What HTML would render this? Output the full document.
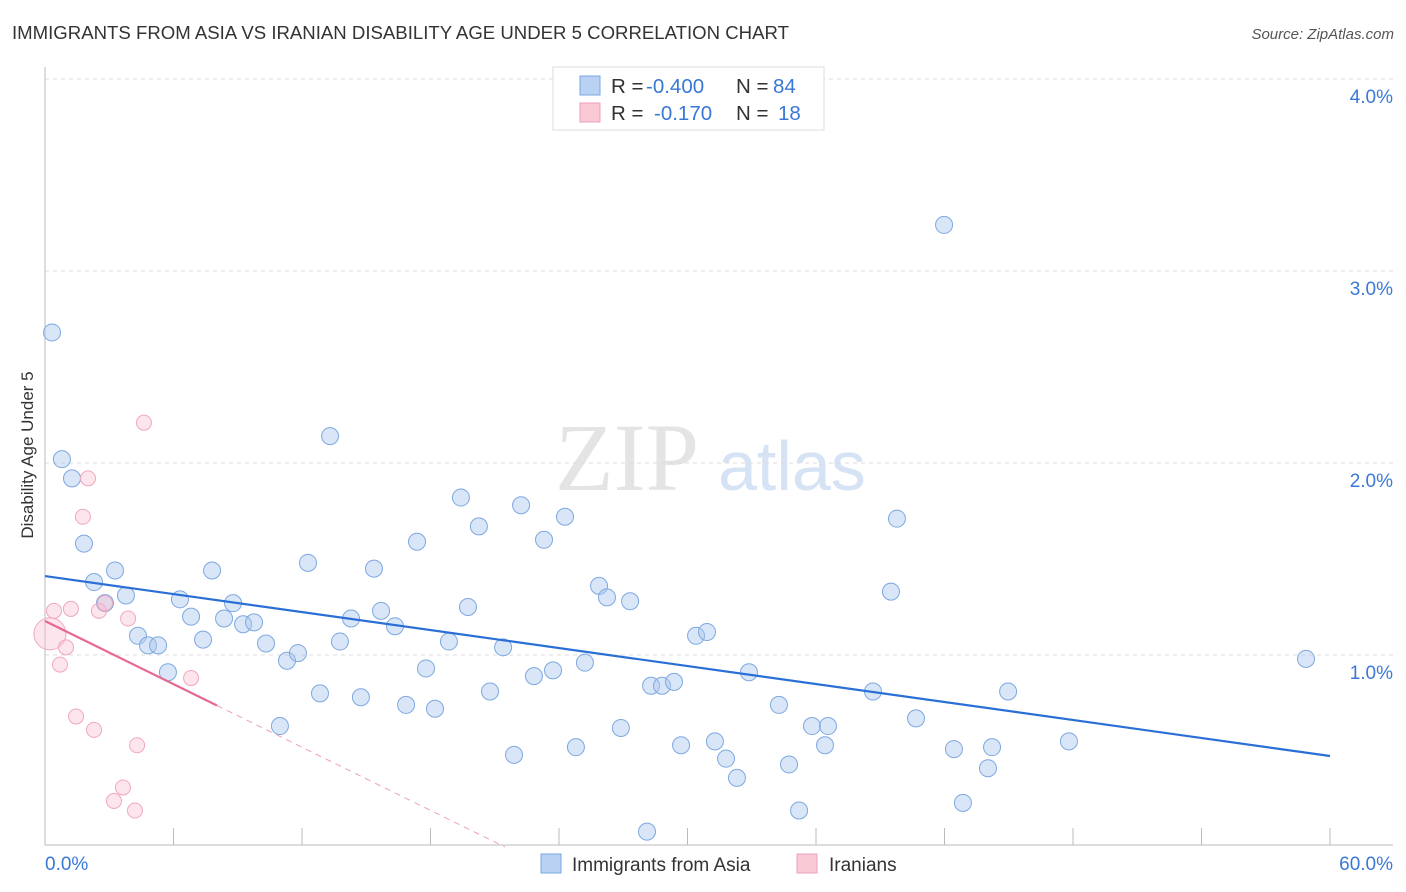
<!DOCTYPE html>
<html><head><meta charset="utf-8"><style>
body{margin:0;background:#fff;font-family:"Liberation Sans",sans-serif;}
svg{display:block}
</style></head><body>
<svg id="chart" width="1406" height="892">
<text x="12" y="39" font-size="18.6" fill="#333">IMMIGRANTS FROM ASIA VS IRANIAN DISABILITY AGE UNDER 5 CORRELATION CHART</text>
<text x="1394" y="39" font-size="15" fill="#555" font-style="italic" text-anchor="end">Source: ZipAtlas.com</text>
<text transform="translate(33,455) rotate(-90)" font-size="17" fill="#333" text-anchor="middle">Disability Age Under 5</text>
<text x="555" y="490" font-size="96" fill="#e4e4e4" font-family="Liberation Serif,serif">ZIP</text>
<text x="718" y="490" font-size="70" fill="#d6e3f5">atlas</text>
<g id="grid"></g><g id="ticks"></g><g id="marks"></g>
<g>
<rect x="553" y="67" width="271" height="63" fill="#fff" stroke="#ddd"/>
<rect x="580" y="76" width="20" height="19" fill="#b9d2f3" stroke="#7aa7e0"/>
<rect x="580" y="103" width="20" height="19" fill="#f9c9d6" stroke="#eea0b8"/>
<text x="611" y="93" font-size="20.5" fill="#333">R = <tspan x="646" fill="#3a78d6">-0.400</tspan><tspan x="736">N = </tspan><tspan x="773" fill="#3a78d6">84</tspan></text>
<text x="611" y="120" font-size="20.5" fill="#333">R = <tspan x="654" fill="#3a78d6">-0.170</tspan><tspan x="736">N = </tspan><tspan x="778" fill="#3a78d6">18</tspan></text>
</g>
<g>
<rect x="541" y="854" width="20" height="19" fill="#b9d2f3" stroke="#7aa7e0"/>
<text x="572" y="871" font-size="19" fill="#333">Immigrants from Asia</text>
<rect x="797" y="854" width="20" height="19" fill="#f9c9d6" stroke="#eea0b8"/>
<text x="829" y="871" font-size="19" fill="#333">Iranians</text>
</g>
</svg>
<script>
const yTicks=[1,2,3,4];
const yTickLabels=["1.0%","2.0%","3.0%","4.0%"];
const xTickVals=[0,6,12,18,24,30,36,42,48,54,60];
const asiaX=[0.33,0.79,1.26,1.82,2.29,3.27,2.80,3.78,4.34,4.81,5.28,5.74,6.30,6.82,7.38,7.80,8.36,8.78,9.25,9.76,10.32,10.97,11.30,11.81,12.28,12.84,13.31,13.77,14.29,14.75,15.36,15.69,16.34,16.86,17.37,17.79,18.21,18.86,19.42,19.75,20.26,20.78,21.39,21.90,22.23,22.83,23.30,23.72,24.28,24.79,25.21,25.87,26.24,26.89,27.32,28.11,28.30,28.81,29.37,29.70,30.40,30.91,31.28,31.80,32.31,32.87,34.27,34.74,35.21,35.81,36.42,36.56,38.66,39.50,39.78,40.67,41.98,42.44,42.86,44.03,44.22,44.97,47.81,58.88];
const asiaY=[2.68,2.02,1.92,1.58,1.38,1.44,1.27,1.31,1.10,1.05,1.05,0.91,1.29,1.20,1.08,1.44,1.19,1.27,1.16,1.17,1.06,0.63,0.97,1.01,1.48,0.80,2.14,1.07,1.19,0.78,1.45,1.23,1.15,0.74,1.59,0.93,0.72,1.07,1.82,1.25,1.67,0.81,1.04,0.48,1.78,0.89,1.60,0.92,1.72,0.52,0.96,1.36,1.30,0.62,1.28,0.08,0.84,0.84,0.86,0.53,1.10,1.12,0.55,0.46,0.36,0.91,0.74,0.43,0.19,0.63,0.53,0.63,0.81,1.33,1.71,0.67,3.24,0.51,0.23,0.41,0.52,0.81,0.55,0.98];
const iranX=[0.23,0.42,0.70,0.98,1.21,1.45,1.77,2.01,2.29,2.52,2.80,3.22,3.64,3.88,4.30,4.20,4.62,6.82];
const iranY=[1.11,1.23,0.95,1.04,1.24,0.68,1.72,1.92,0.61,1.23,1.27,0.24,0.31,1.19,0.53,0.19,2.21,0.88];
const asiaTrend=[1.411,0.474]; // y at x=0 and x=60
const iranTrend=[1.177,-0.0548]; // intercept, slope
const iranSolidEnd=8.03;
const X=v=>45+v/60*1285, Y=v=>847-v*192;
const NS="http://www.w3.org/2000/svg";
function mk(t,a,p){const e=document.createElementNS(NS,t);for(const k in a)e.setAttribute(k,a[k]);document.getElementById(p).appendChild(e);return e;}
yTicks.forEach((t,i)=>{
 const l=mk('line',{x1:45,x2:1393,y1:Y(t),y2:Y(t),stroke:'#ddd','stroke-dasharray':'4,4'},'grid');
 
 
 const tx=mk('text',{x:1393,y:Y(t)+24,'font-size':19,fill:'#3a78d6','text-anchor':'end'},'ticks');tx.textContent=yTickLabels[i];
 
 
});
const ax=mk('path',{d:'M45,67V845H1393',fill:'none',stroke:'#bbb'},'grid');


xTickVals.forEach(v=>{const t=mk('line',{x1:X(v),x2:X(v),y1:828,y2:845,stroke:'#bbb'},'grid');
 
 });
[[0,"0.0%",'start',45],[60,"60.0%",'end',1393]].forEach(a=>{const t=mk('text',{x:a[3],y:870,'font-size':19,fill:'#3a78d6','text-anchor':a[2]},'ticks');t.textContent=a[1];
 
 });
asiaX.forEach((x,i)=>{const c=mk('circle',{cx:X(x),cy:Y(asiaY[i]),r:8.5,fill:'rgba(170,200,240,0.45)',stroke:'#7ea8e0','stroke-width':1},'marks');
 
 });
iranX.forEach((x,i)=>{const c=mk('circle',{cx:X(x),cy:Y(iranY[i]),r:i==0?16:7.5,fill:'rgba(247,190,208,0.4)',stroke:'#f0a8be','stroke-width':1},'marks');
 
 });
const bl=mk('line',{x1:X(0),y1:Y(asiaTrend[0]),x2:X(60),y2:Y(asiaTrend[1]),stroke:'#2a6fd6','stroke-width':2.2},'marks');


const zx=-iranTrend[0]/iranTrend[1];
const pl=mk('line',{x1:X(0),y1:Y(iranTrend[0]),x2:X(iranSolidEnd),y2:Y(iranTrend[0]+iranTrend[1]*iranSolidEnd),stroke:'#e8678f','stroke-width':2.2},'marks');


const pd=mk('line',{x1:X(iranSolidEnd),y1:Y(iranTrend[0]+iranTrend[1]*iranSolidEnd),x2:X(zx),y2:Y(0),stroke:'#eea0b8','stroke-width':1,'stroke-dasharray':'6,5'},'marks');


</script>
</body></html>
